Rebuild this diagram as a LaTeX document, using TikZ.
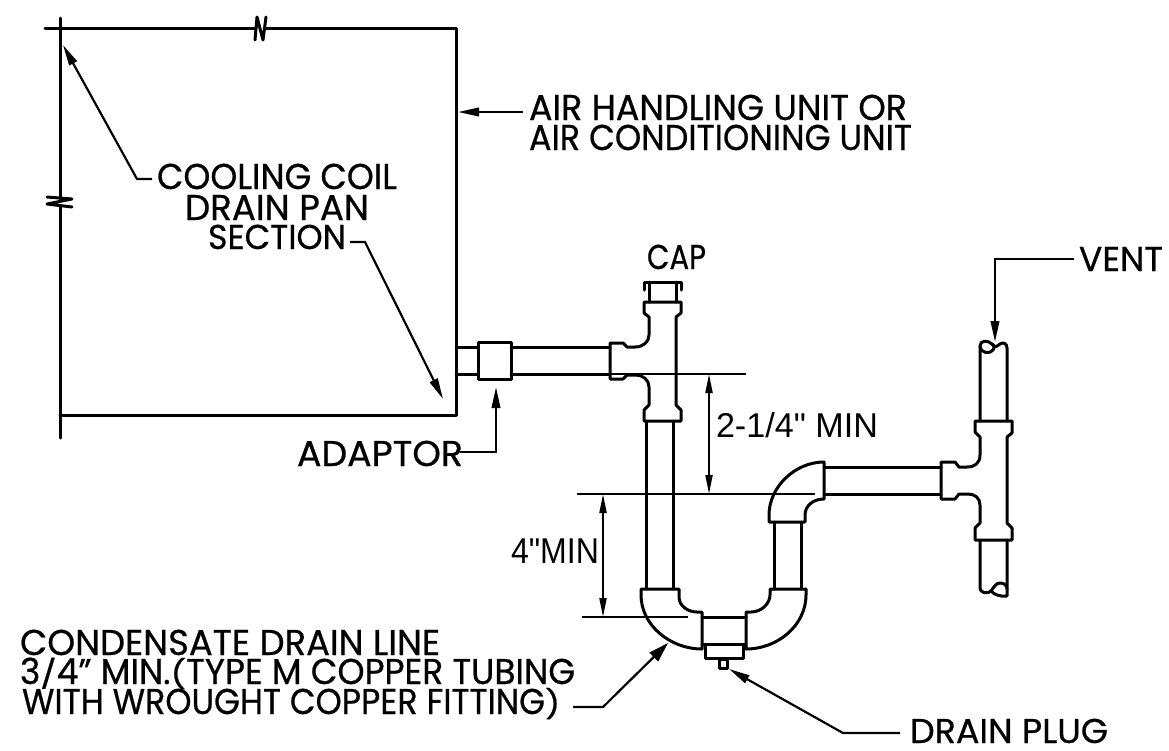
\documentclass[tikz,border=0pt]{standalone}
\usepackage{graphicx}
\usepackage{fontspec}
\setmainfont{Poppins}[FakeBold=0.6]
\newfontfamily\dimfont{Liberation Sans}
\usetikzlibrary{arrows.meta}
\newcommand{\lbl}[3]{\resizebox{#1pt}{#2pt}{\smash{#3}\vphantom{H}}}
\newcommand{\shrt}[1]{\scalebox{1}[0.78]{#1}}
\tikzset{
  pipe/.style={line width=3pt,line join=round,line cap=round},
  leader/.style={line width=2.2pt,line join=miter},
  tipped/.style={leader,-{Triangle[length=21pt,width=8.5pt]}},
  fattip/.style={leader,-{Triangle[length=20pt,width=12pt]}},
  dimline/.style={line width=2pt},
  dimboth/.style={line width=2pt,{Triangle[length=19pt,width=7pt]}-{Triangle[length=19pt,width=7pt]}},
  lab/.style={anchor=base west,inner sep=0pt,outer sep=0pt,text=black}
}
\begin{document}
\begin{tikzpicture}[x=1pt,y=-1pt]
\fill[white] (0,0) rectangle (1169,750);
\useasboundingbox (0,0) rectangle (1169,750);

% unit casing with break symbols
\draw[pipe] (45,28) -- (256,28);
\draw[pipe] (255,40) -- (257,17) -- (263,40) -- (266,17);
\draw[pipe] (265.5,28) -- (456,28) -- (456,415) -- (60,415);
\draw[pipe] (60,18) -- (60,199);
\draw[pipe] (47,197) -- (72,199) -- (47,204) -- (72,207);
\draw[pipe] (60,206) -- (60,438);

% adaptor and horizontal pipe
\draw[pipe] (456,347) -- (478,347);
\draw[pipe] (456,374) -- (478,374);
\draw[pipe] (478,342) rectangle (511,379);
\draw[pipe] (511,347) -- (610,347);
\draw[pipe] (511,374) -- (610,374);

% cap
\draw[pipe] (644,290) -- (644,282) -- (681,282) -- (681,290);
\draw[pipe] (649,282) -- (649,302);
\draw[pipe] (676,282) -- (676,302);

% upper tee
\draw[pipe] (610,343) -- (623,343) -- (627,347) -- (635,347)
  .. controls (643,347) and (649,342) .. (649,335) -- (649,317) -- (644,313) -- (644,302)
  -- (681,302) -- (681,313) -- (676,317) -- (676,405) -- (681,410) -- (681,421)
  -- (644,421) -- (644,410) -- (649,405) -- (649,387)
  .. controls (649,380) and (643,375) .. (636,375) -- (627,375) -- (623,379) -- (610,379) -- cycle;

% left riser
\draw[pipe] (646,421) -- (646,589);
\draw[pipe] (673,421) -- (673,589);

% trap
\draw[pipe] (679,589) -- (641,589) -- (641,595)
  .. controls (641,625) and (670,649) .. (702,649) -- (702,612) -- (697,612)
  .. controls (688,612) and (679,606) .. (679,597) -- cycle;
\draw[pipe] (770,589) -- (806,589) -- (806,595)
  .. controls (806,625) and (778,649) .. (746,649) -- (746,612) -- (751,612)
  .. controls (762,612) and (770,603) .. (770,595) -- cycle;
\draw[pipe] (702,617) -- (746,617);
\draw[pipe] (702,644) -- (746,644);
\draw[pipe] (705,644) rectangle (743,658);
\draw[pipe] (719,659) rectangle (727,668);

% right riser and upper elbow
\draw[pipe] (774,522) -- (774,589);
\draw[pipe] (801,522) -- (801,589);
\draw[pipe] (769,522) -- (769,515) .. controls (769,487) and (795,462) .. (824,462)
  -- (824,499) .. controls (813,499) and (805,506) .. (805,515) -- (805,522) -- cycle;
\draw[pipe] (824,467) -- (941,467);
\draw[pipe] (824,494) -- (941,494);

% vent tee
\draw[pipe] (941,462) -- (955,462) -- (959,467) -- (967,467)
  .. controls (975,467) and (980,463) .. (980,455) -- (980,437) -- (975,432) -- (975,421)
  -- (1012,421) -- (1012,433) -- (1007,437) -- (1007,523) -- (1012,528) -- (1012,540)
  -- (975,540) -- (975,528) -- (980,523) -- (980,505)
  .. controls (980,498) and (975,494) .. (968,494) -- (959,494) -- (955,499) -- (941,499) -- cycle;

% broken pipe ends
\draw[pipe] (980,421) -- (980,346) .. controls (980,340) and (988,340) .. (992,344)
  .. controls (996,349) and (998,345) .. (1000,344) .. controls (1003,342) and (1007,343) .. (1007,348) -- (1007,421);
\draw[pipe] (980,346) .. controls (981,354) and (990,354) .. (993,350) .. controls (995,347) and (994,346) .. (992,344);
\draw[pipe] (980,540) -- (980,587) .. controls (980,594) and (988,594) .. (991,591)
  .. controls (994,587) and (996,583) .. (1000,583) .. controls (1004,583) and (1007,585) .. (1007,589) -- (1007,540);
\draw[pipe] (991,591) .. controls (994,595) and (1002,597) .. (1007,596) -- (1007,589);

% dimension extension lines
\coordinate (dA1) at (567,374); \coordinate (dA2) at (746,374);
\coordinate (dB1) at (577,494); \coordinate (dB2) at (815,494);
\coordinate (dC1) at (582,617); \coordinate (dC2) at (688,617);
\draw[dimline] (dA1) -- (dA2);
\draw[dimline] (dB1) -- (dB2);
\draw[dimline] (dC1) -- (dC2);
\coordinate (dA) at (709,374); \coordinate (dAb) at (709,494);
\coordinate (dC) at (603,494); \coordinate (dCb) at (603,617);
\draw[dimboth] (dA) -- (dAb);
\draw[dimboth] (dC) -- (dCb);

% labels
\node[lab] (tAir1) at (529,120) {\lbl{378}{25}{AIR HANDLING UNIT OR}};
\node[lab] (tAir2) at (529,150) {\lbl{383}{25}{AIR CONDITIONING UNIT}};
\node[lab] (tCool) at (157,189) {\lbl{240}{25}{COOLING COIL}};
\node[lab] (tDrain) at (185,220) {\lbl{184}{25}{DRAIN PAN}};
\node[lab] (tSect) at (208,249) {\lbl{138}{24}{SECTION}};
\node[lab] (tCap) at (647,269) {\lbl{59}{24}{CAP}};
\node[lab] (tVent) at (1079,271) {\lbl{84}{24}{VENT}};
\node[lab] (tAdapt) at (297,466) {\lbl{166}{25}{ADAPTOR}};
\node[lab] (tDimA) at (716,437) {\lbl{162}{24}{\dimfont 2-1/4" MIN}};
\node[lab] (tDimC) at (511,563) {\lbl{88}{25}{\dimfont 4"MIN}};
\node[lab] (tCond1) at (20,655) {\lbl{420}{25}{CONDENSATE DRAIN LINE}};
\node[lab] (tCond2) at (20,684) {\lbl{555}{25}{3\shrt{/}4" MIN.\shrt{(}TYPE M COPPER TUBING}};
\node[lab] (tCond3) at (22,714) {\lbl{538}{25}{WITH WROUGHT COPPER FITTING\shrt{)}}};
\node[lab] (tPlug) at (910,743) {\lbl{198}{24}{DRAIN PLUG}};

% leaders
\coordinate (airS) at (523,112); \coordinate (airT) at (458,112);
\draw[tipped] (airS) -- (airT);
\coordinate (coolS) at (152,179); \coordinate (coolK) at (137,179); \coordinate (coolT) at (63,45);
\draw[tipped] (coolS) -- (coolK) -- (coolT);
\coordinate (sectS) at (350,242); \coordinate (sectK) at (365,242); \coordinate (sectT) at (443,399);
\draw[tipped] (sectS) -- (sectK) -- (sectT);
\coordinate (adS) at (460,452); \coordinate (adK) at (496,452); \coordinate (adT) at (496,387);
\draw[tipped] (adS) -- (adK) -- (adT);
\coordinate (vS) at (1074,259); \coordinate (vK) at (995,259); \coordinate (vT) at (995,342);
\draw[tipped] (vS) -- (vK) -- (vT);
\coordinate (cdS) at (573,707); \coordinate (cdK) at (603,707); \coordinate (cdT) at (668,643);
\draw[fattip] (cdS) -- (cdK) -- (cdT);
\coordinate (plS) at (900,733); \coordinate (plK) at (843,733); \coordinate (plT) at (729,669);
\draw[tipped] (plS) -- (plK) -- (plT);
\end{tikzpicture}
\end{document}
